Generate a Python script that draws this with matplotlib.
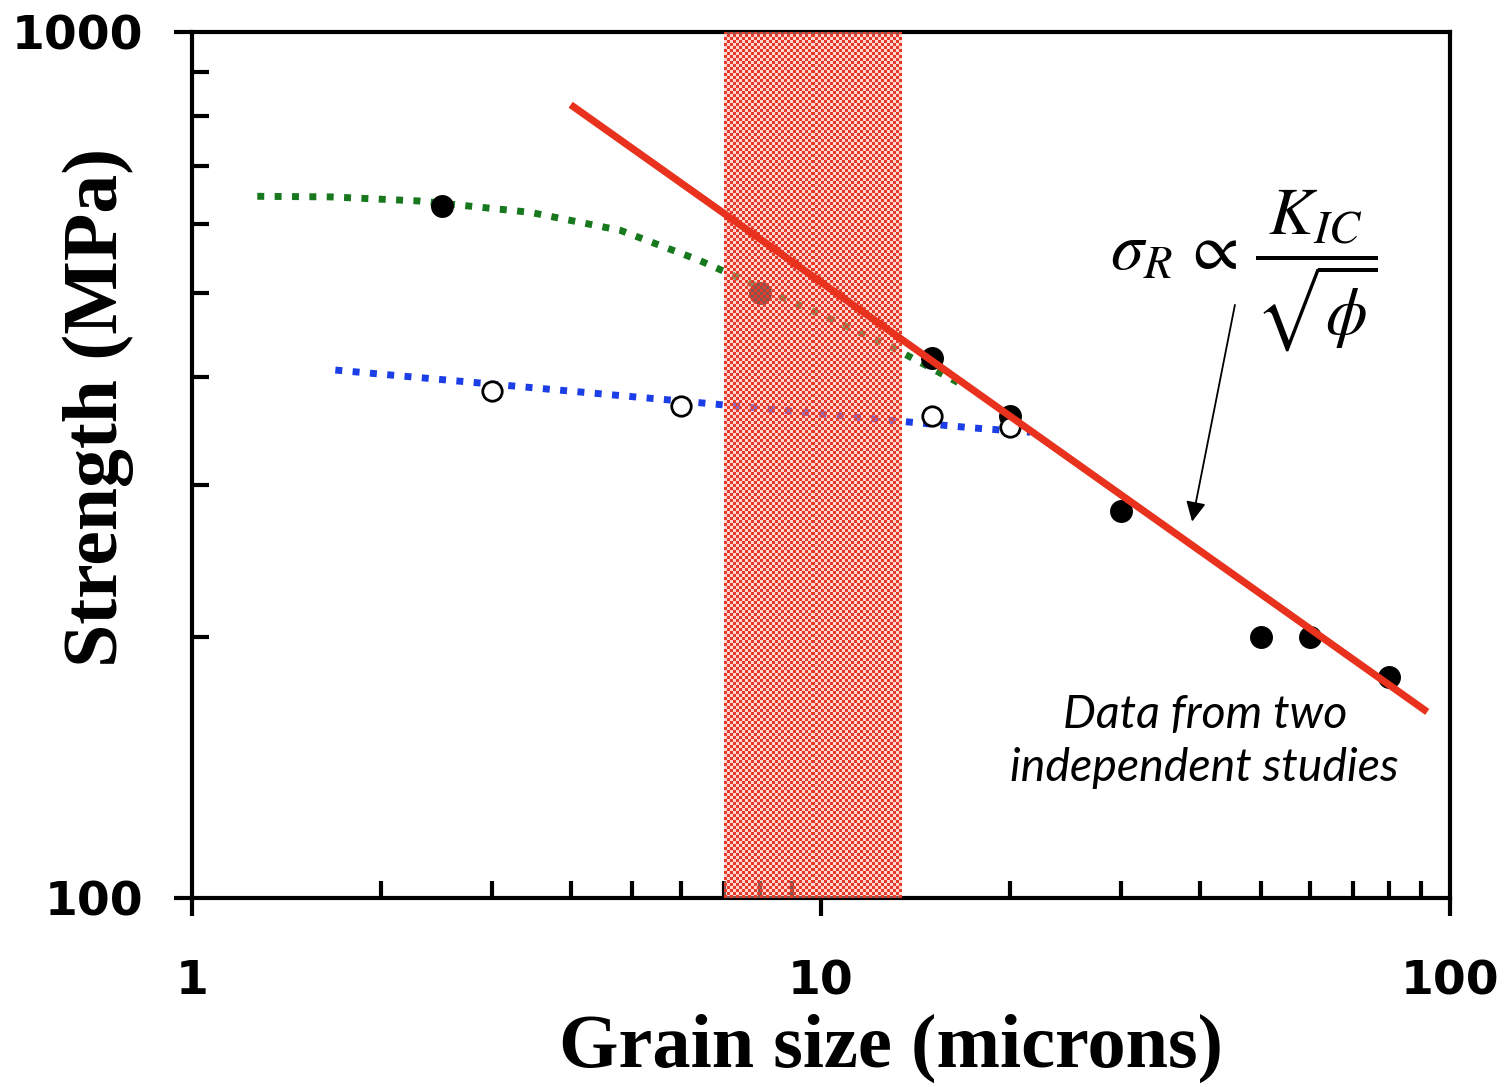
import numpy as np
import matplotlib
matplotlib.use("Agg")
import matplotlib.pyplot as plt

# data
grain_filled = [2.5, 8, 15, 20, 30, 50, 60, 80]
strength_filled = [630, 500, 420, 360, 280, 200, 200, 180]

grain_open = [3, 6, 15, 20]
strength_open = [385, 370, 360, 350]

# fitted guide curves
green_x = [1.27, 1.66, 2.3, 3.45, 4.8, 6.4, 8.0, 10.3, 13.0, 16.6]
green_y = [646, 645, 638, 619, 590, 545, 507, 467, 432, 393]

blue_x = [1.69, 6.2, 17.4, 21.5]
blue_y = [407, 374, 349, 345]

red_x = [4.0, 92]
red_y = [824, 164]

band = [7.0, 13.4]

RED = '#e8321e'
GREEN = '#17781e'
BLUE = '#1c3ee6'

plt.rcParams['mathtext.fontset'] = 'stix'

fig = plt.figure(figsize=(15.07, 10.87), dpi=100)
ax = fig.add_axes([0.1274, 0.1739, 0.8348, 0.7967])
ax.set_xscale('log')
ax.set_yscale('log')
ax.set_xlim(1, 100)
ax.set_ylim(100, 1000)

ax.plot(green_x, green_y, color=GREEN, lw=5, dashes=(1, 1.5),
        dash_capstyle='butt', zorder=2)
ax.plot(blue_x, blue_y, color=BLUE, lw=5, dashes=(1, 1.5),
        dash_capstyle='butt', zorder=2)
ax.plot(grain_filled, strength_filled, 'o', color='black', ms=15.5, zorder=3)
ax.plot(grain_open, strength_open, 'o', mfc='white', mec='black', mew=2,
        ms=14, zorder=3)

# checkered red band
ins = ax.inset_axes([band[0], 100, band[1] - band[0], 900], transform=ax.transData)
ins.patch.set_visible(False)
ins.axis('off')
nx, ny = 59, 289
ii, jj = np.meshgrid(np.arange(nx), np.arange(ny))
img = np.zeros((ny, nx, 4))
mask = (ii + jj) % 2 == 0
img[mask] = [0.91, 0.22, 0.16, 1.0]
img[~mask] = [1.0, 0.7, 0.66, 0.5]
ins.imshow(img, aspect='auto', interpolation='nearest')
ins.set_zorder(4)

ax.plot(red_x, red_y, color=RED, lw=5.2, solid_capstyle='butt', zorder=6)

# axes styling
for s in ax.spines.values():
    s.set_linewidth(3)
ax.set_xticks([1, 10, 100])
ax.set_xticklabels(['1', '10', '100'])
ax.set_yticks([100, 1000])
ax.set_yticklabels(['100', '1000'])
ax.tick_params(which='major', direction='out', length=13, width=3,
               labelsize=34, pad=22)
ax.tick_params(which='minor', direction='in', length=12, width=3)
ax.tick_params(axis='x', which='major', pad=31)
ax.yaxis.set_minor_formatter(matplotlib.ticker.NullFormatter())
ax.xaxis.set_minor_formatter(matplotlib.ticker.NullFormatter())
for lab in ax.get_xticklabels() + ax.get_yticklabels():
    lab.set_fontweight('bold')
    lab.set_family('DejaVu Sans')

ax.set_xlabel('Grain size (microns)', fontsize=55, fontweight='bold',
              family='Liberation Serif')
ax.xaxis.set_label_coords(0.556, -0.134)
ax.set_ylabel('Strength (MPa)', fontsize=56, fontweight='bold',
              family='Liberation Serif')
ax.yaxis.set_label_coords(-0.046, 0.567)

ax.text(0.836, 0.724, r'$\sigma_R\,\propto\,\dfrac{K_{IC}}{\sqrt{\phi}}$',
        transform=ax.transAxes, fontsize=48, ha='center', va='center')
ax.annotate('', xy=(38.9, 272), xytext=(45.5, 484),
            arrowprops=dict(arrowstyle='-|>', color='black', lw=1.3,
                            mutation_scale=30, shrinkA=0, shrinkB=0))

ax.text(0.805, 0.181, 'Data from two\nindependent studies', transform=ax.transAxes,
        fontsize=33.5, style='italic', family='Lato', ha='center', va='center',
        linespacing=1.32)

fig.savefig('out.png', dpi=100)
